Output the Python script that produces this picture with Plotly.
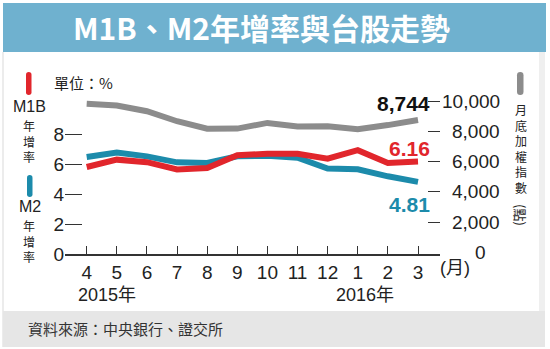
import plotly.graph_objects as go

# Monthly data, Apr 2015 - Mar 2016
months = ["4", "5", "6", "7", "8", "9", "10", "11", "12", "1", "2", "3"]
year_labels = ["2015年", "2016年"]
taiex = [9820, 9701, 9323, 8665, 8175, 8181, 8554, 8320, 8338, 8145, 8411, 8744]
m1b = [5.80, 6.29, 6.12, 5.64, 5.73, 6.58, 6.68, 6.68, 6.35, 6.92, 6.07, 6.16]
m2 = [6.47, 6.77, 6.51, 6.11, 6.07, 6.52, 6.55, 6.42, 5.70, 5.65, 5.18, 4.81]
left_ticks = [0, 2, 4, 6, 8]
right_ticks = [2000, 4000, 6000, 8000, 10000]

RED = "#e1262c"
TEAL = "#1c8bab"
GRAY = "#8c8c8c"
INK = "#222222"
CJK = "Noto Sans CJK TC"
LAT = "Liberation Sans, Arial, Noto Sans CJK TC"

WIDTH, HEIGHT = 550, 349
ML, MR, MT, MB = 65, 110, 95, 95
PW = WIDTH - ML - MR
PH = HEIGHT - MT - MB


def fx(px):
    return (px - ML) / PW


def fy(py):
    return (HEIGHT - MB - py) / PH


idx = list(range(len(months)))

fig = go.Figure()
fig.add_trace(go.Scatter(x=idx, y=taiex, yaxis="y2", mode="lines",
                         line=dict(color=GRAY, width=6), hoverinfo="skip"))
fig.add_trace(go.Scatter(x=idx, y=m2, mode="lines",
                         line=dict(color=TEAL, width=6), hoverinfo="skip"))
fig.add_trace(go.Scatter(x=idx, y=m1b, mode="lines",
                         line=dict(color=RED, width=6), hoverinfo="skip"))

shapes = []


def rect(x0, y0, x1, y1, color):
    shapes.append(dict(type="rect", xref="paper", yref="paper",
                       x0=fx(x0), x1=fx(x1), y0=fy(y0), y1=fy(y1),
                       fillcolor=color, line=dict(width=0), layer="below"))


def pill(x0, y0, x1, y1, color):
    r = (x1 - x0) / 2
    xc = (x0 + x1) / 2
    pts = [
        ("M", x0, y0 + r), ("Q", x0, y0, xc, y0), ("Q", x1, y0, x1, y0 + r),
        ("L", x1, y1 - r), ("Q", x1, y1, xc, y1), ("Q", x0, y1, x0, y1 - r),
    ]
    path = ""
    for p in pts:
        cmd, coords = p[0], p[1:]
        xy = []
        for i in range(0, len(coords), 2):
            xy.append(f"{fx(coords[i]):.5f},{fy(coords[i + 1]):.5f}")
        path += cmd + " " + " ".join(xy) + " "
    shapes.append(dict(type="path", xref="paper", yref="paper", path=path + "Z",
                       fillcolor=color, line=dict(width=0)))


# frame, title bar, source bar
rect(3, 3, 546, 52, "#6fb1cf")
rect(2, 52, 4, 347, "#ececec")
rect(539, 52, 545, 311, "#efefef")
rect(3, 311, 545, 347, "#e6e6e6")

# series keys
pill(26, 72, 31.5, 95, RED)
pill(27, 175, 32.5, 197, TEAL)
pill(517, 72, 523.5, 95, GRAY)

ann = []


def text(s, px, py, size, color=INK, family=CJK, xanchor="center", angle=0):
    ann.append(dict(text=s, xref="paper", yref="paper", x=fx(px), y=fy(py),
                    xanchor=xanchor, yanchor="middle", showarrow=False,
                    textangle=angle, borderpad=0,
                    font=dict(size=size, color=color, family=family)))


def vertical(s, px, py, size):
    text("<br>".join(s), px, py, size)


# title
text("<b>M1B、M2年增率與台股走勢</b>", 261, 27, 30, "white")

# left keys
text("單位：%", 53, 82, 15, xanchor="left")
text("M1B", 29, 106, 16, family=LAT)
vertical("年增率", 29, 141, 12)
text("M2", 30, 206, 16, family=LAT)
vertical("年增率", 29, 241, 12)

# right key
vertical("月底加權指數", 521, 148, 12)
text("(點)", 521, 215, 13, angle=90)

# right axis labels, right-aligned
for v in right_ticks:
    ann.append(dict(text=f"{v:,}", xref="paper", yref="y2", x=fx(502), y=v,
                    xanchor="right", yanchor="middle", showarrow=False,
                    font=dict(size=19, color=INK, family=LAT)))
ann.append(dict(text="0", xref="paper", yref="y2", x=fx(480), y=0,
                xanchor="center", yanchor="middle", showarrow=False,
                font=dict(size=19, color=INK, family=LAT)))

# x-axis extras
text("(月)", 455, 268, 18, family=LAT)
text(year_labels[0], 107, 295, 18, family=LAT)
text(year_labels[1], 365, 295, 18, family=LAT)

# source
text("資料來源：中央銀行、證交所", 27, 328, 15, color="#333333", xanchor="left")

# end-of-series value labels
last = len(months) - 1
ann.append(dict(text=f"<b>{taiex[last]:,}</b>", x=last, y=taiex[last], xref="x", yref="y2",
                xanchor="right", yanchor="middle", xshift=14, yshift=17, showarrow=False,
                font=dict(size=21, color="#111111", family=LAT)))
ann.append(dict(text=f"<b>{m1b[last]:.2f}</b>", x=last, y=m1b[last], xref="x", yref="y",
                xanchor="right", yanchor="middle", xshift=14, yshift=13, showarrow=False,
                font=dict(size=21, color=RED, family=LAT)))
ann.append(dict(text=f"<b>{m2[last]:.2f}</b>", x=last, y=m2[last], xref="x", yref="y",
                xanchor="right", yanchor="middle", xshift=14, yshift=-23, showarrow=False,
                font=dict(size=21, color=TEAL, family=LAT)))

fig.update_layout(
    width=WIDTH, height=HEIGHT, autosize=False,
    margin=dict(l=ML, r=MR, t=MT, b=MB, pad=0),
    paper_bgcolor="white", plot_bgcolor="rgba(0,0,0,0)",
    showlegend=False,
    shapes=shapes, annotations=ann,
    xaxis=dict(range=[-0.72, 11.73], tickvals=idx, ticktext=months,
               ticks="inside", ticklen=8, tickwidth=1.2, tickcolor="#333333",
               showline=True, linecolor="#333333", linewidth=1.5,
               showgrid=False, zeroline=False,
               tickfont=dict(size=19, color=INK, family=LAT)),
    yaxis=dict(range=[0, PH / 15], tickvals=left_ticks,
               ticks="inside", ticklen=17, tickwidth=1.2, tickcolor="#333333",
               showline=False, showgrid=False, zeroline=False,
               tickfont=dict(size=19, color=INK, family=LAT)),
    yaxis2=dict(overlaying="y", side="right", range=[-92, -92 + PH * 65.96],
                tickvals=right_ticks, ticks="inside", ticklen=12, tickwidth=1.2,
                tickcolor="#333333", showticklabels=False,
                showline=False, showgrid=False, zeroline=False),
)

fig.write_html("out.html")
